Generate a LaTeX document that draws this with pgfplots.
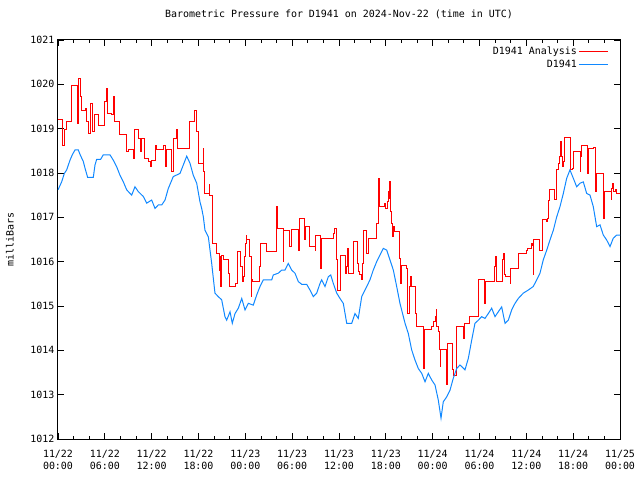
\documentclass[border=0pt]{standalone}
\usepackage{pgfplots}
\pgfplotsset{compat=1.18}
\usepackage{fontspec}
\setmainfont{DejaVu Sans Mono}
\definecolor{anared}{RGB}{255,0,0}
\definecolor{obsblue}{RGB}{16,136,255}
\begin{document}
\begin{tikzpicture}[font=\fontsize{10}{12}\selectfont]
\begin{axis}[
  at={(0,0)}, anchor=south west,
  scale only axis, width=562bp, height=399bp,
  xmin=0, xmax=72, ymin=1012, ymax=1021,
  xtick={0,6,...,72},
  xticklabels={{11/22\\00:00},{11/22\\06:00},{11/22\\12:00},{11/22\\18:00},{11/23\\00:00},{11/23\\06:00},{11/23\\12:00},{11/23\\18:00},{11/24\\00:00},{11/24\\06:00},{11/24\\12:00},{11/24\\18:00},{11/25\\00:00}},
  minor x tick num=2,
  ytick={1012,1013,...,1021},
  yticklabels={1012,1013,1014,1015,1016,1017,1018,1019,1020,1021},
  xticklabel style={align=center, font=\fontsize{10}{12}\selectfont, yshift=-8bp},
  yticklabel style={font=\fontsize{10}{12}\selectfont},
  tick align=inside,
  major tick length=6bp, minor tick length=3bp,
  tick style={black, line width=0.8bp},
  axis line style={black, line width=1bp},
  title={Barometric Pressure for D1941 on 2024-Nov-22 (time in UTC)},
  title style={at={(0.5,1)}, anchor=center, yshift=20bp},
  ylabel={milliBars},
  ylabel style={at={(axis description cs:0,0.5)}, anchor=center, yshift=48bp},
  legend style={at={(1,1)}, anchor=north east, draw=none, fill=none, xshift=-8bp, yshift=-3bp,
    row sep=0bp, font=\fontsize{10}{12}\selectfont},
  legend cell align=right,
  legend plot pos=right,
  legend image code/.code={\draw[#1] (0bp,0bp) -- (29bp,0bp);},
]
\addplot[const plot, color=anared, line width=1bp] coordinates {
(0.00,1019.20) (0.60,1018.63) (0.85,1018.97) (1.07,1019.16) (1.75,1019.98) (2.52,1019.12)
(2.65,1020.14) (2.82,1019.72) (3.03,1019.42) (3.46,1019.46) (3.67,1019.16) (3.89,1018.90)
(4.10,1019.57) (4.40,1018.93) (4.74,1019.31) (5.25,1019.08) (5.98,1019.61) (6.19,1019.91)
(6.40,1019.35) (6.83,1019.31) (7.05,1019.72) (7.30,1019.16) (7.94,1018.86) (8.80,1018.48)
(9.01,1018.52) (9.65,1018.33) (9.86,1018.97) (10.29,1018.78) (10.58,1018.48) (10.72,1018.78)
(11.02,1018.33) (11.57,1018.26) (11.79,1018.14) (12.00,1018.29) (12.43,1018.63) (12.64,1018.52)
(13.49,1018.63) (13.71,1018.14) (13.93,1018.52) (14.57,1018.03) (14.77,1018.78) (15.21,1018.97)
(15.34,1018.56) (16.91,1019.16) (17.46,1019.42) (17.77,1018.93) (17.97,1018.22) (18.62,1018.56)
(18.70,1018.03) (18.83,1017.54) (19.35,1017.73) (19.47,1017.50) (19.81,1016.41) (20.33,1016.19)
(20.66,1015.81) (20.75,1016.11) (20.84,1015.44) (20.97,1016.13) (21.18,1016.04) (21.82,1015.74)
(21.91,1015.44) (22.80,1015.51) (22.97,1016.22) (23.40,1015.89) (23.61,1015.55) (23.74,1015.66)
(23.83,1016.11) (23.96,1016.41) (24.09,1016.60) (24.17,1016.49) (24.51,1016.11) (24.73,1015.21)
(24.81,1015.59) (24.94,1015.55) (25.79,1015.89) (25.88,1016.41) (26.65,1016.22) (27.93,1017.05)
(28.01,1017.24) (28.10,1016.75) (28.86,1016.00) (28.95,1016.71) (29.63,1016.34) (29.94,1016.73)
(30.79,1016.26) (30.88,1016.98) (31.52,1016.49) (31.77,1016.79) (32.16,1016.34) (32.93,1016.26)
(33.05,1016.60) (33.57,1016.49) (33.66,1015.85) (33.78,1016.53) (35.27,1016.64) (35.40,1016.75)
(35.71,1016.04) (35.83,1015.36) (36.22,1016.15) (36.77,1015.74) (36.99,1015.89) (37.06,1016.30)
(37.19,1015.74) (37.92,1016.45) (38.35,1015.96) (38.47,1015.77) (38.69,1015.70) (38.82,1015.59)
(39.04,1015.96) (39.12,1016.71) (39.55,1016.19) (39.75,1016.53) (40.83,1016.86) (41.04,1017.88)
(41.17,1017.62) (41.25,1017.24) (41.89,1017.32) (42.02,1017.20) (42.19,1017.35) (42.32,1017.58)
(42.40,1017.43) (42.44,1017.80) (42.62,1017.13) (42.75,1016.86) (42.88,1016.56) (42.96,1016.79)
(43.05,1016.68) (43.81,1016.08) (43.90,1015.51) (44.03,1015.92) (44.67,1015.85) (44.80,1014.83)
(44.97,1015.44) (45.10,1015.66) (45.31,1015.44) (45.74,1015.21) (45.86,1014.83) (45.95,1014.53)
(46.80,1013.59) (46.89,1014.46) (47.88,1014.53) (48.09,1014.65) (48.30,1014.76) (48.43,1014.91)
(48.52,1014.53) (48.72,1014.42) (48.85,1014.01) (48.94,1013.63) (49.03,1014.01) (49.71,1013.56)
(49.80,1013.22) (49.93,1014.16) (50.57,1013.56) (50.64,1013.44) (50.99,1014.53) (51.93,1014.27)
(52.02,1014.53) (52.14,1014.61) (52.78,1014.76) (53.93,1015.60) (54.70,1015.06) (54.83,1015.55)
(55.90,1015.89) (55.99,1016.11) (56.12,1015.74) (56.21,1015.55) (56.97,1016.04) (57.05,1016.19)
(57.18,1015.70) (57.39,1015.66) (57.91,1015.51) (58.00,1015.85) (58.97,1016.19) (59.96,1016.26)
(60.12,1016.30) (60.69,1016.41) (60.82,1016.37) (60.89,1015.70) (60.98,1016.50) (61.75,1016.26)
(62.05,1016.96) (62.61,1016.90) (62.74,1016.98) (62.90,1017.39) (63.03,1017.62) (63.55,1017.41)
(63.89,1018.07) (64.10,1018.22) (64.22,1018.37) (64.40,1018.71) (64.53,1018.37) (64.66,1018.14)
(64.74,1018.26) (64.86,1018.81) (65.68,1018.07) (65.89,1018.11) (66.02,1018.48) (66.88,1018.03)
(66.96,1018.37) (67.09,1018.63) (67.81,1017.99) (67.94,1018.56) (68.58,1018.58) (68.88,1017.58)
(69.01,1017.99) (69.86,1016.98) (69.99,1017.58) (70.85,1017.41) (70.94,1017.65) (71.07,1017.77)
(71.23,1017.58) (71.36,1017.62) (71.58,1017.54) (72.00,1017.54)
};
\addlegendentry{D1941 Analysis}
\addplot[color=obsblue, line width=1bp] coordinates {
(0.00,1017.62) (0.47,1017.80) (0.81,1017.99) (1.11,1018.07) (1.54,1018.29) (1.83,1018.41)
(2.18,1018.52) (2.60,1018.52) (2.82,1018.42) (3.24,1018.26) (3.46,1018.11) (3.80,1017.90)
(4.52,1017.90) (4.74,1018.18) (4.96,1018.31) (5.47,1018.31) (5.80,1018.41) (6.66,1018.41)
(7.08,1018.29) (7.52,1018.14) (7.94,1017.95) (8.37,1017.80) (8.80,1017.62) (9.44,1017.50)
(9.86,1017.69) (10.29,1017.58) (10.93,1017.47) (11.36,1017.32) (12.00,1017.39) (12.43,1017.20)
(12.85,1017.28) (13.29,1017.28) (13.71,1017.39) (14.13,1017.65) (14.77,1017.92) (15.63,1017.99)
(16.05,1018.18) (16.49,1018.38) (16.91,1018.22) (17.33,1017.95) (17.77,1017.77) (18.19,1017.35)
(18.41,1017.20) (18.62,1017.01) (18.83,1016.71) (19.26,1016.56) (19.69,1015.96) (20.11,1015.29)
(20.54,1015.21) (20.97,1015.14) (21.39,1014.76) (21.61,1014.68) (22.04,1014.87) (22.33,1014.61)
(22.68,1014.83) (23.10,1014.95) (23.54,1015.17) (23.96,1014.91) (24.38,1015.06) (25.02,1015.02)
(25.46,1015.25) (25.88,1015.44) (26.30,1015.59) (27.38,1015.59) (27.58,1015.70) (28.22,1015.74)
(28.66,1015.81) (29.08,1015.81) (29.50,1015.96) (29.94,1015.81) (30.36,1015.74) (30.79,1015.55)
(31.22,1015.49) (31.86,1015.49) (32.28,1015.36) (32.71,1015.21) (33.14,1015.29) (33.57,1015.51)
(33.78,1015.59) (34.21,1015.44) (34.63,1015.66) (34.94,1015.70) (35.27,1015.51) (35.71,1015.29)
(36.13,1015.17) (36.55,1015.06) (36.99,1014.61) (37.63,1014.61) (38.05,1014.83) (38.47,1014.72)
(38.91,1015.21) (39.33,1015.36) (39.97,1015.59) (40.39,1015.81) (40.83,1016.00) (41.25,1016.15)
(41.68,1016.30) (42.11,1016.26) (42.53,1016.04) (42.96,1015.81) (43.39,1015.44) (43.81,1015.06)
(44.46,1014.61) (44.88,1014.38) (45.31,1014.01) (45.74,1013.78) (46.16,1013.59) (46.60,1013.48)
(47.02,1013.29) (47.44,1013.48) (47.88,1013.33) (48.30,1013.22) (48.72,1012.88) (49.07,1012.47)
(49.36,1012.84) (49.80,1012.95) (50.22,1013.10) (50.64,1013.37) (51.08,1013.59) (51.50,1013.67)
(52.14,1013.56) (52.57,1013.82) (53.00,1014.23) (53.42,1014.61) (53.85,1014.68) (54.28,1014.76)
(54.70,1014.72) (55.13,1014.83) (55.56,1014.95) (55.99,1014.76) (56.41,1014.87) (56.84,1014.98)
(57.27,1014.61) (57.69,1014.68) (58.12,1014.91) (58.55,1015.06) (58.97,1015.17) (59.61,1015.29)
(60.25,1015.36) (60.89,1015.44) (61.33,1015.59) (61.75,1015.74) (62.17,1016.04) (62.61,1016.26)
(63.03,1016.49) (63.46,1016.71) (63.89,1017.01) (64.31,1017.24) (64.74,1017.54) (65.17,1017.88)
(65.59,1018.07) (66.02,1017.88) (66.45,1017.69) (66.88,1017.77) (67.30,1017.80) (67.73,1017.54)
(68.16,1017.50) (68.58,1017.24) (69.01,1016.79) (69.44,1016.83) (69.86,1016.60) (70.29,1016.49)
(70.72,1016.34) (71.14,1016.53) (71.58,1016.60) (72.00,1016.60)
};
\addlegendentry{D1941}
\end{axis}
\pgfresetboundingbox
\path (-58bp,-41bp) rectangle (582bp,439bp);
\end{tikzpicture}
\end{document}
